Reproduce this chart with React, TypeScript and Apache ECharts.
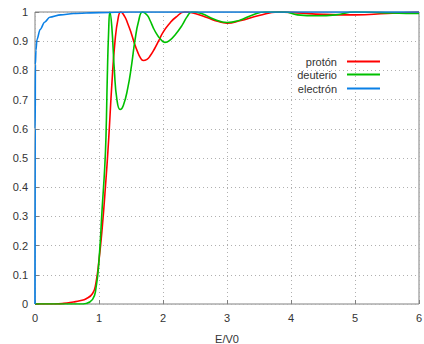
import React, { useEffect, useRef } from "react";
import * as echarts from "echarts";

const protonX = [0, 0.3, 0.45, 0.6, 0.7, 0.8, 0.9, 0.95, 1.0, 1.05, 1.1, 1.15, 1.2, 1.25, 1.3, 1.34, 1.4, 1.45, 1.5, 1.55, 1.6, 1.65, 1.69, 1.75, 1.8, 1.87, 1.93, 2.0, 2.1, 2.2, 2.34, 2.5, 2.7, 2.85, 3.0, 3.2, 3.5, 3.8, 4.1, 4.5, 5.0, 5.5, 6.0];
const protonY = [0, 0, 0.002, 0.007, 0.011, 0.018, 0.036, 0.07, 0.15, 0.26, 0.4, 0.56, 0.75, 0.9, 0.98, 1.0, 0.985, 0.96, 0.93, 0.895, 0.865, 0.842, 0.834, 0.838, 0.85, 0.875, 0.9, 0.93, 0.96, 0.982, 1.0, 0.995, 0.98, 0.968, 0.962, 0.97, 0.988, 1.0, 0.997, 0.992, 0.99, 0.995, 1.0];

const deuteronX = [0, 0.7, 0.8, 0.9, 0.95, 1.0, 1.05, 1.09, 1.11, 1.13, 1.15, 1.17, 1.2, 1.24, 1.28, 1.33, 1.38, 1.45, 1.51, 1.56, 1.62, 1.68, 1.75, 1.8, 1.85, 1.9, 1.95, 2.03, 2.1, 2.2, 2.3, 2.38, 2.45, 2.6, 2.8, 3.0, 3.2, 3.4, 3.6, 3.9, 4.1, 4.4, 4.7, 5.0, 5.4, 5.8, 6.0];
const deuteronY = [0, 0, 0.002, 0.016, 0.05, 0.15, 0.33, 0.47, 0.58, 0.78, 0.93, 1.0, 0.95, 0.8, 0.7, 0.666, 0.68, 0.74, 0.82, 0.9, 0.97, 1.0, 0.99, 0.97, 0.945, 0.925, 0.91, 0.896, 0.902, 0.925, 0.955, 0.985, 1.0, 0.995, 0.975, 0.964, 0.972, 0.99, 1.0, 1.0, 0.99, 0.987, 0.99, 1.0, 0.998, 0.995, 0.995];

const electronX = [0, 0.003, 0.006, 0.015, 0.03, 0.08, 0.15, 0.23, 0.4, 0.6, 1.0, 1.5, 6.0];
const electronY = [0, 0.6, 0.82, 0.87, 0.905, 0.94, 0.965, 0.982, 0.99, 0.995, 0.998, 1.0, 1.0];

const xTicks = [0, 1, 2, 3, 4, 5, 6];
const yTicks = [0, 0.1, 0.2, 0.3, 0.4, 0.5, 0.6, 0.7, 0.8, 0.9, 1];

const names = ["protón", "deuterio", "electrón"];
const colors = ["#ff0000", "#00c000", "#0a80e6"];

const zip = (xs: number[], ys: number[]) => xs.map((x, i) => [x, ys[i]]);

export default function App() {
  const ref = useRef<HTMLDivElement>(null);
  useEffect(() => {
    document.body.style.margin = "0";
    const chart = echarts.init(ref.current!, undefined, { renderer: "svg" });
    const font = "Liberation Sans, Arial, sans-serif";
    const legendTops = [56, 69, 83];
    chart.setOption({
      animation: false,
      textStyle: { fontFamily: font },
      grid: {
        left: 35,
        right: 5,
        top: 12,
        bottom: 40,
        outerBoundsMode: "none",
        containLabel: false,
        show: true,
        borderColor: "#808080",
        borderWidth: 1,
      },
      legend: names.map((n, i) => ({
        data: [n],
        right: 44,
        top: legendTops[i],
        orient: "vertical",
        align: "right",
        icon: "rect",
        itemWidth: 33,
        itemHeight: 2,
        padding: 0,
        selectedMode: false,
        textStyle: { fontSize: 11, color: "#333", fontFamily: font, padding: [0, 5, 0, 0] },
      })),
      xAxis: {
        type: "value",
        min: 0,
        max: 6,
        interval: 1,
        name: "E/V0",
        nameLocation: "middle",
        nameGap: 29,
        nameTextStyle: { fontSize: 11, color: "#333", fontFamily: font },
        axisLine: { show: false },
        axisTick: { show: true, inside: true, length: 4, lineStyle: { color: "#808080" } },
        axisLabel: {
          fontSize: 11,
          color: "#333",
          margin: 8,
          formatter: (v: number) => (xTicks.includes(v) ? String(v) : ""),
        },
        splitLine: { show: true, lineStyle: { color: "#b0b0b0", type: [1, 3], width: 1 } },
      },
      yAxis: {
        type: "value",
        min: 0,
        max: 1,
        interval: 0.1,
        axisLine: { show: false },
        axisTick: { show: true, inside: true, length: 4, lineStyle: { color: "#808080" } },
        axisLabel: {
          fontSize: 11,
          color: "#333",
          margin: 7,
          formatter: (v: number) => {
            const t = yTicks.find((y) => Math.abs(y - v) < 1e-6);
            return t === undefined ? "" : String(t);
          },
        },
        splitLine: { show: true, lineStyle: { color: "#b0b0b0", type: [1, 3], width: 1 } },
      },
      series: [
        {
          name: names[0],
          type: "line",
          data: zip(protonX, protonY),
          showSymbol: false,
          smooth: 0.5,
          lineStyle: { color: colors[0], width: 1.6 },
          itemStyle: { color: colors[0] },
          z: 3,
        },
        {
          name: names[1],
          type: "line",
          data: zip(deuteronX, deuteronY),
          showSymbol: false,
          smooth: 0.5,
          lineStyle: { color: colors[1], width: 1.6 },
          itemStyle: { color: colors[1] },
          z: 4,
        },
        {
          name: names[2],
          type: "line",
          data: zip(electronX, electronY),
          showSymbol: false,
          smooth: 0.3,
          smoothMonotone: "x",
          lineStyle: { color: colors[2], width: 1.6 },
          itemStyle: { color: colors[2] },
          z: 5,
        },
      ],
    });
    return () => chart.dispose();
  }, []);
  return <div ref={ref} style={{ width: 424, height: 344 }} />;
}
